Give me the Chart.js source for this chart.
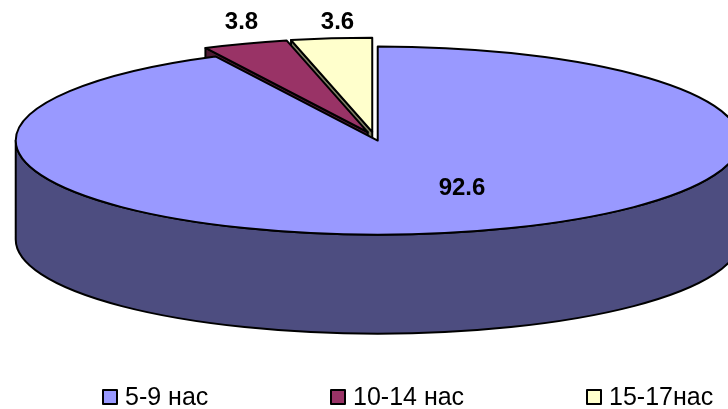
<!DOCTYPE html>
<html>
<head>
<meta charset="utf-8">
<style>
  html, body { margin: 0; padding: 0; background: #fff; overflow: hidden; }
  canvas { display: block; }
</style>
<script src="https://cdn.jsdelivr.net/npm/chart.js@4/dist/chart.umd.min.js"></script>
</head>
<body>
<canvas id="chart" width="728" height="409"></canvas>
<script>
const categories = ['5-9 нас', '10-14 нас', '15-17нас'];
const values = [92.6, 3.8, 3.6];
const sliceColors = ['#9999FF', '#993366', '#FFFFCC'];
const sideColors = ['#4D4D80', '#4D1A33', '#808066'];

// how far each slice is pulled out of the pie, before the tilt
const explode = [14, 20, 20];
const labelSpots = [[462, 188], [241.5, 22], [337.5, 22]];
const legendSpots = [103, 331, 587];

const tilt = 0.26;
const depth = 99;
const lineWidth = 2;

const sliceShift = (arc, i) => {
    const mid = (arc.startAngle + arc.endAngle) / 2;
    return [explode[i] * Math.cos(mid), explode[i] * Math.sin(mid) * tilt];
};

const strokeBlack = (ctx) => {
    ctx.strokeStyle = '#000';
    ctx.lineWidth = lineWidth;
    ctx.lineJoin = 'round';
    ctx.stroke();
};

// the flat top of a slice is still drawn by the arc element itself
const drawTop = (ctx, arc, i) => {
    const [sx, sy] = sliceShift(arc, i);
    ctx.save();
    ctx.translate(arc.x + sx, arc.y + sy);
    ctx.scale(1, tilt);
    ctx.translate(-arc.x, -arc.y);
    arc.draw(ctx);
    ctx.restore();

    ctx.beginPath();
    ctx.moveTo(arc.x + sx, arc.y + sy);
    ctx.ellipse(arc.x + sx, arc.y + sy, arc.outerRadius, arc.outerRadius * tilt, 0, arc.startAngle, arc.endAngle);
    ctx.closePath();
    strokeBlack(ctx);
};

// cut face along the start edge of a small slice
const drawEdgeSide = (ctx, arc, i) => {
    const [sx, sy] = sliceShift(arc, i);
    const x = arc.x + sx, y = arc.y + sy;
    const tipX = x + arc.outerRadius * Math.cos(arc.startAngle);
    const tipY = y + arc.outerRadius * tilt * Math.sin(arc.startAngle);
    ctx.beginPath();
    ctx.moveTo(x, y);
    ctx.lineTo(tipX, tipY);
    ctx.lineTo(tipX, tipY + depth);
    ctx.lineTo(x, y + depth);
    ctx.closePath();
    ctx.fillStyle = sideColors[i];
    ctx.fill();
    strokeBlack(ctx);
};

// front wall of the big slice
const drawRim = (ctx, arc, i) => {
    const [sx, sy] = sliceShift(arc, i);
    const x = arc.x + sx, y = arc.y + sy;
    const rx = arc.outerRadius, ry = arc.outerRadius * tilt;
    ctx.beginPath();
    ctx.ellipse(x, y + depth, rx, ry, 0, 0, Math.PI);
    ctx.ellipse(x, y, rx, ry, 0, Math.PI, 0, true);
    ctx.closePath();
    ctx.fillStyle = sideColors[i];
    ctx.fill();
    strokeBlack(ctx);
};

const pie3d = {
    id: 'pie3d',
    beforeDatasetDraw(chart) {
        const ctx = chart.ctx;
        const arcs = chart.getDatasetMeta(0).data;
        // back slices first, the big one covers their lower walls
        drawEdgeSide(ctx, arcs[2], 2);
        drawTop(ctx, arcs[2], 2);
        drawEdgeSide(ctx, arcs[1], 1);
        drawTop(ctx, arcs[1], 1);
        drawRim(ctx, arcs[0], 0);
        drawTop(ctx, arcs[0], 0);
        return false;
    },
    afterDraw(chart) {
        const ctx = chart.ctx;
        ctx.save();
        ctx.fillStyle = '#000';
        ctx.textBaseline = 'middle';
        ctx.textAlign = 'center';
        ctx.font = 'bold 24px "Liberation Sans"';
        values.forEach((v, i) => ctx.fillText(String(v), labelSpots[i][0], labelSpots[i][1]));

        ctx.textAlign = 'left';
        ctx.font = '25px "Liberation Sans"';
        categories.forEach((name, i) => {
            const x = legendSpots[i];
            ctx.fillStyle = sliceColors[i];
            ctx.fillRect(x, 390, 14, 14);
            ctx.strokeStyle = '#000';
            ctx.lineWidth = 2;
            ctx.strokeRect(x, 390, 14, 14);
            ctx.fillStyle = '#000';
            ctx.fillText(name, x + 22, 398);
        });
        ctx.restore();
    }
};

new Chart(document.getElementById('chart'), {
    type: 'pie',
    data: {
        labels: categories,
        datasets: [{
            data: values,
            backgroundColor: sliceColors,
            borderWidth: 0
        }]
    },
    options: {
        responsive: false,
        animation: false,
        radius: 362,
        layout: { padding: { left: 21, bottom: 135 } },
        plugins: {
            legend: { display: false },
            tooltip: { enabled: false }
        }
    },
    plugins: [pie3d]
});
</script>
</body>
</html>
